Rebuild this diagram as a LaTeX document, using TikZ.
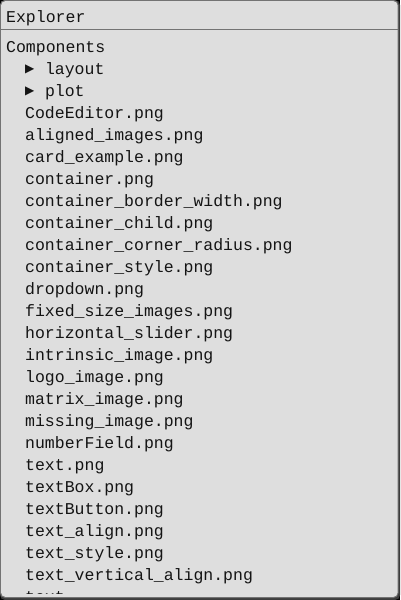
\documentclass[tikz,border=0pt]{standalone}
\usepackage{fontspec}
\setmonofont{Liberation Mono}
\newfontfamily\symfont{DejaVu Sans}
\definecolor{panel}{HTML}{DEDEDE}
\definecolor{rim}{HTML}{737373}
\definecolor{rimdark}{HTML}{3C3C3C}
\definecolor{ink}{HTML}{141414}
\newcommand\tri{\makebox[0.6em][l]{\raisebox{1.5bp}{\symfont\fontsize{12bp}{12bp}\selectfont ▶}}}
\tikzset{
  entry/.style={anchor=base west, inner sep=0pt, text=ink,
    font=\ttfamily\fontsize{16.5bp}{22bp}\selectfont}
}
\begin{document}
\begin{tikzpicture}[x=1bp,y=-1bp]
\useasboundingbox (0,0) rectangle (400,600);
\fill[black] (0,0) rectangle (400,600);
\fill[rimdark, rounded corners=5bp] (0,0) rectangle (400,600);
\fill[rim, rounded corners=5bp] (0,0) rectangle (398.5,598);
\fill[panel, rounded corners=4bp] (1.2,1.2) rectangle (397.5,596.8);
\draw[rim, line width=1bp] (1,29.5) -- (398,29.5);

\node[entry] (title) at (6,23) {Explorer};

\begin{scope}
  \clip (1,30) rectangle (398,593.5);
  \node[entry] (components) at (6,52.5) {Components};
  \node[entry] (layout) at (25,74.5) {\tri\ layout};
  \node[entry] (plot) at (25,96.5) {\tri\ plot};
  \foreach \f [count=\i from 3] in {CodeEditor.png, aligned\_images.png,
      card\_example.png, container.png, container\_border\_width.png,
      container\_child.png, container\_corner\_radius.png,
      container\_style.png, dropdown.png, fixed\_size\_images.png,
      horizontal\_slider.png, intrinsic\_image.png, logo\_image.png,
      matrix\_image.png, missing\_image.png, numberField.png, text.png,
      textBox.png, textButton.png, text\_align.png, text\_style.png,
      text\_vertical\_align.png, text}
    \node[entry] (file-\i) at (25,{52.5+22*\i}) {\f};
\end{scope}
\end{tikzpicture}
\end{document}
